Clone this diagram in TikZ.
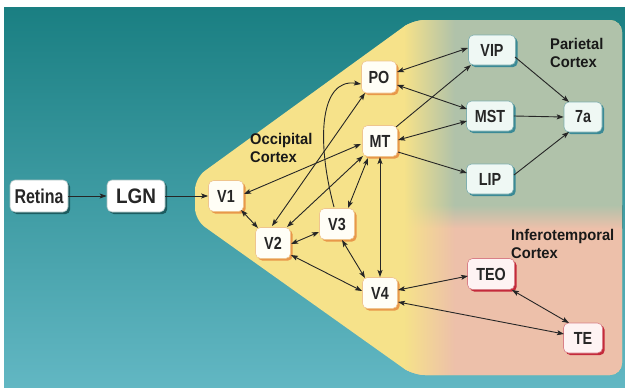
\documentclass[tikz,border=0pt]{standalone}
\usepackage{fontspec}
\setmainfont{Liberation Sans}
\newfontfamily\condf{Liberation Sans}[FakeStretch=0.82]
\newfontfamily\labf{Liberation Sans}[FakeStretch=0.95]
\newfontfamily\retf{Liberation Sans}[FakeStretch=0.8]
\newfontfamily\lgnf{Liberation Sans}[FakeStretch=0.9]
\usetikzlibrary{arrows.meta,shadows,fadings}

\definecolor{tealtop}{HTML}{1A7F82}
\definecolor{tealbot}{HTML}{62B7C3}
\definecolor{yellowc}{HTML}{F6E28A}
\definecolor{parc}{HTML}{B0C2AA}
\definecolor{pinkc}{HTML}{EDC0AA}
\definecolor{occfill}{HTML}{FFFEF6}
\definecolor{occline}{HTML}{EFC58E}
\definecolor{occshadow}{HTML}{E8984A}
\definecolor{parfill}{HTML}{EFF8F4}
\definecolor{parline}{HTML}{7FAFB0}
\definecolor{parshadow}{HTML}{3B8A96}
\definecolor{itfill}{HTML}{FEF3F3}
\definecolor{itline}{HTML}{D98088}
\definecolor{itshadow}{HTML}{C42A3B}
\definecolor{srcline}{HTML}{A8C0C0}
\definecolor{srcshadow}{HTML}{1C5C60}

\tikzfading[name=fadeoutright, left color=transparent!0, right color=transparent!100]

\tikzset{
  nbox/.style={rounded corners=5pt, inner sep=0pt, line width=0.6pt,
    font=\condf\bfseries\fontsize{17.5}{17.5}\selectfont, text=black!85},
  occ/.style={nbox, minimum width=35pt, minimum height=31pt, fill=occfill, draw=occline,
    drop shadow={shadow xshift=2.2pt, shadow yshift=-2.2pt, fill=occshadow, opacity=1}},
  par/.style={nbox, minimum width=47pt, minimum height=30pt, fill=parfill, draw=parline,
    drop shadow={shadow xshift=2.2pt, shadow yshift=-2.2pt, fill=parshadow, opacity=1}},
  itn/.style={nbox, minimum width=47pt, minimum height=31pt, fill=itfill, draw=itline,
    drop shadow={shadow xshift=2.2pt, shadow yshift=-2.2pt, fill=itshadow, opacity=1}},
  src/.style={nbox, minimum width=58pt, minimum height=32pt, fill=white, draw=srcline,
    drop shadow={shadow xshift=2.2pt, shadow yshift=-2.2pt, fill=srcshadow, opacity=1}},
  ctx/.style={font=\labf\bfseries\fontsize{15.5}{17.5}\selectfont, align=left,
    anchor=west, inner sep=0pt, text=black!90},
  tip/.tip={Stealth[length=7pt,width=5pt,inset=1.5pt]},
  arr/.style={line width=0.9pt, draw=black!85, -tip},
  barr/.style={line width=0.9pt, draw=black!85, tip-tip},
}

\begin{document}
\begin{tikzpicture}[x=1pt,y=-1pt]
\useasboundingbox (0,0) rectangle (625,388);
\fill[white] (0,0) rectangle (625,388);
\fill[top color=tealtop, bottom color=tealbot] (4,7) rectangle (625,388);

\begin{scope}
  \path[clip, rounded corners=12pt] (413,20) -- (622,20) -- (622,375) -- (413,375)
     -- (195,220) -- (195,178) -- cycle;
  \fill[yellowc] (190,15) rectangle (630,380);
  \fill[parc] (405,15) rectangle (630,205.5);
  \fill[top color=parc, bottom color=pinkc] (405,205) rectangle (630,228.5);
  \fill[pinkc] (405,228) rectangle (630,380);
  \fill[yellowc, path fading=fadeoutright] (404,15) rectangle (455,380);
\end{scope}

% labels
\node[ctx] (occlab) at (250,148) {Occipital\\Cortex};
\node[ctx] (parlab) at (550,53) {Parietal\\Cortex};
\node[ctx] (itlab) at (511,244) {Inferotemporal\\Cortex};

% nodes
\node[src, font=\retf\bfseries\fontsize{20}{20}\selectfont] (Retina) at (39,196) {Retina};
\node[src, font=\lgnf\bfseries\fontsize{21}{21}\selectfont] (LGN) at (136,196) {LGN};
\node[occ] (V1) at (226,196) {V1};
\node[occ] (V2) at (273,243) {V2};
\node[occ] (V3) at (337,224) {V3};
\node[occ] (V4) at (380,293) {V4};
\node[occ, minimum height=32pt] (PO) at (379,77) {PO};
\node[occ] (MT) at (380,141) {MT};
\node[par] (VIP) at (492,50) {VIP};
\node[par] (MST) at (490,116) {MST};
\node[par] (LIP) at (490,179) {LIP};
\node[par, minimum width=38pt] (A7) at (583,117) {7a};
\node[itn] (TEO) at (491,274) {TEO};
\node[itn, minimum width=39pt, minimum height=30pt] (TE) at (583,338) {TE};

% connectors
\draw[arr] (Retina) -- (LGN);
\draw[arr] (LGN) -- (V1);
\draw[barr] ([shift={(15,14)}]V1.center) -- ([shift={(-15,-15)}]V2.center);
\draw[barr] ([shift={(18,-2)}]V1.center) -- ([shift={(-19,3)}]MT.center);
\draw[barr] ([shift={(-1,-17)}]V2.center) -- ([shift={(-14,16)}]PO.center);
\draw[barr] ([shift={(14,-16)}]V2.center) -- ([shift={(-17,15)}]MT.center);
\draw[arr] ([shift={(-3,-17)}]V3.center) .. controls (316,140) and (320,78) .. ([shift={(-18,7)}]PO.center);
\draw[barr] ([shift={(11,-16)}]V3.center) -- ([shift={(-12,17)}]MT.center);
\draw[barr] ([shift={(18,1)}]V2.center) -- ([shift={(-18,8)}]V3.center);
\draw[barr] ([shift={(18,12)}]V2.center) -- ([shift={(-18,-2)}]V4.center);
\draw[barr] ([shift={(5,16)}]V3.center) -- ([shift={(-15,-15)}]V4.center);
\draw[barr] ([shift={(0,16)}]MT.center) -- ([shift={(0,-16)}]V4.center);
\draw[barr] ([shift={(18,-5)}]PO.center) -- ([shift={(-24,-2)}]VIP.center);
\draw[barr] ([shift={(18,8)}]PO.center) -- ([shift={(-23,-7)}]MST.center);
\draw[arr] ([shift={(16,-14)}]MT.center) -- ([shift={(-21,15)}]VIP.center);
\draw[barr] ([shift={(18,-1)}]MT.center) -- ([shift={(-23,5)}]MST.center);
\draw[arr] ([shift={(18,11)}]MT.center) -- ([shift={(-23,-6)}]LIP.center);
\draw[arr] ([shift={(23,7)}]VIP.center) -- ([shift={(-14,-15)}]A7.center);
\draw[arr] (MST.east) -- (A7.west);
\draw[arr] ([shift={(24,-4)}]LIP.center) -- ([shift={(-14,15)}]A7.center);
\draw[barr] ([shift={(18,-3)}]V4.center) -- ([shift={(-23,2)}]TEO.center);
\draw[barr] ([shift={(18,9)}]V4.center) -- ([shift={(-19,-4)}]TE.center);
\draw[barr] ([shift={(21,16)}]TEO.center) -- ([shift={(-14,-15)}]TE.center);
\end{tikzpicture}
\end{document}
